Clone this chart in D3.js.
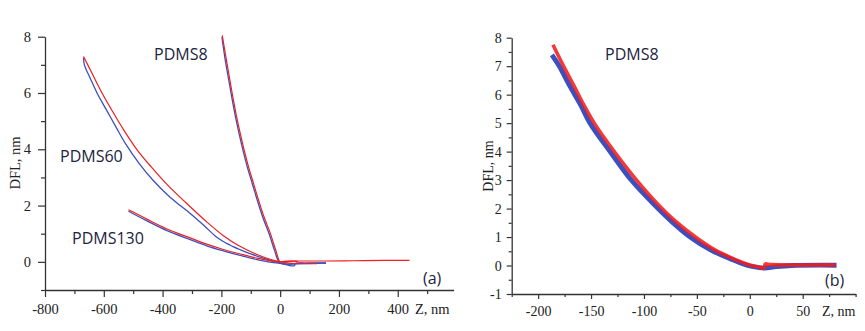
<!DOCTYPE html>
<html><head><meta charset="utf-8">
<script src="https://cdn.jsdelivr.net/npm/d3@7"></script>
<style>body{margin:0;background:#fff}svg{display:block}</style>
</head><body><svg id="c" width="865" height="331"></svg>
<script>
// ---------- Panel (a) data (Z in nm, DFL in nm) ----------
const aZ8red  = [-197,-185,-170,-159,-147,-136,-122,-108,-91,-74,-55,-34,-16,0,10,60,150,250,350,440];
const aD8red  = [8.05,7.3,6.4,5.75,5.1,4.57,3.95,3.39,2.8,2.21,1.6,1.03,0.45,0.0,0.02,0.03,0.03,0.04,0.05,0.05];
const aZ8blue = [-198,-188,-173,-162,-150,-139,-125,-111,-94,-77,-58,-37,-19,-3,10,30,60,100,156];
const aD8blue = [7.98,7.25,6.35,5.7,5.05,4.52,3.9,3.34,2.75,2.16,1.55,0.98,0.4,-0.02,-0.07,-0.08,-0.05,-0.04,-0.04];

const aZ60red  = [-669,-640,-606,-570,-533,-488,-440,-386,-340,-306,-250,-193,-140,-79,-40,0,40,125];
const aD60red  = [7.3,6.70,6.0,5.34,4.70,4.0,3.39,2.76,2.29,1.96,1.42,0.93,0.57,0.26,0.11,0.0,-0.05,-0.06];
const aZ60blue = [-669,-666,-645,-623,-590,-557,-525,-480,-431,-380,-340,-306,-260,-221,-195,-175,-160,-136,-100,-50,0,20,48,52,80];
const aD60blue = [7.25,7.0,6.5,6.0,5.38,4.76,4.18,3.5,2.88,2.35,2.0,1.72,1.3,0.92,0.73,0.62,0.54,0.43,0.28,0.11,-0.04,-0.1,-0.14,-0.06,-0.05];

const aZ130red  = [-516,-500,-450,-385,-306,-250,-193,-136,-79,-40,0,20,60];
const aD130red  = [1.85,1.77,1.50,1.17,0.85,0.63,0.44,0.28,0.13,0.05,0.0,0.02,0.02];
const aZ130blue = [-516,-500,-450,-385,-306,-250,-193,-136,-79,-40,0,20,80,156];
const aD130blue = [1.80,1.71,1.44,1.11,0.79,0.57,0.39,0.23,0.08,0.0,-0.05,-0.08,-0.06,-0.04];

const aXMajor = [-800,-600,-400,-200,0,200,400];
const aXMinor = [-700,-500,-300,-100,100,300,500];
const aYMajor = [0,2,4,6,8];
const aYMinor = [-1,1,3,5,7];

// ---------- Panel (b) data ----------
const bZred  = [-186,-176,-166,-157,-147,-127,-107,-88,-70,-52,-33,-13,0,8,14,14.5,20,50,81];
const bDred  = [7.75,7.0,6.3,5.65,5.0,3.95,3.0,2.2,1.55,1.02,0.55,0.2,0.02,-0.05,-0.08,0.05,0.03,0.02,0.02];
const bZblue = [-187,-180,-170,-160,-151,-131,-112,-92,-74,-57,-37,-16,-2,8,14,25,40,82];
const bDblue = [7.4,7.0,6.3,5.65,5.0,3.95,3.0,2.2,1.55,1.02,0.55,0.2,0.0,-0.07,-0.09,-0.04,0.0,0.01];

const bXMajor = [-200,-150,-100,-50,0,50];
const bXMinor = [-225,-175,-125,-75,-25,25,75,100];
const bYMajor = [-1,0,1,2,3,4,5,6,7,8];
const bYMinor = [-0.5,0.5,1.5,2.5,3.5,4.5,5.5,6.5,7.5];

const RED = "#f01e1e", BLUE = "#3b4fbf", AX = "#333", TXT = "#1b2440";
const svg = d3.select("#c");
svg.append("rect").attr("width",865).attr("height",331).attr("fill","#fff");

function pairs(z, d){ return z.map((v,i)=>[v,d[i]]); }

function styleAxis(g, fs){
  g.selectAll("path.domain").attr("stroke",AX).attr("stroke-width",1.3);
  g.selectAll(".tick line").attr("stroke",AX).attr("stroke-width",1.2);
  g.selectAll(".tick text").attr("fill","#222").attr("font-family","'Liberation Serif','Times New Roman',serif").attr("font-size",fs);
}

function drawAxes(x, y, x0, y0, o){
  let g = svg.append("g").attr("transform",`translate(0,${y0})`)
    .call(d3.axisBottom(x).tickValues(o.xMajor).tickSize(o.tMaj).tickSizeOuter(0).tickPadding(o.xPad).tickFormat(d=>String(d)));
  styleAxis(g, o.fs);
  g = svg.append("g").attr("transform",`translate(0,${y0})`)
    .call(d3.axisBottom(x).tickValues(o.xMinor).tickSize(o.tMin).tickSizeOuter(0).tickFormat(""));
  g.select("path.domain").remove(); styleAxis(g, o.fs);
  g = svg.append("g").attr("transform",`translate(${x0},0)`)
    .call(d3.axisLeft(y).tickValues(o.yMajor).tickSize(o.tMaj).tickSizeOuter(0).tickPadding(o.yPad).tickFormat(d=>String(d)));
  styleAxis(g, o.fs);
  g = svg.append("g").attr("transform",`translate(${x0},0)`)
    .call(d3.axisLeft(y).tickValues(o.yMinor).tickSize(o.tMin).tickSizeOuter(0).tickFormat(""));
  g.select("path.domain").remove(); styleAxis(g, o.fs);
}

// ---------- Panel (a) ----------
const xa = d3.scaleLinear().domain([-800, 590]).range([45, 453.6]);
const ya = d3.scaleLinear().domain([-1, 8]).range([290, 36.7]);
drawAxes(xa, ya, 45, 290, {xMajor:aXMajor,xMinor:aXMinor,yMajor:aYMajor,yMinor:aYMinor,tMaj:7,tMin:4,xPad:7,yPad:7,fs:"14.5px"});

const la = d3.line().x(d=>xa(d[0])).y(d=>ya(d[1])).curve(d3.curveCatmullRom.alpha(0.5));
[[aZ8blue,aD8blue],[aZ60blue,aD60blue],[aZ130blue,aD130blue]].forEach(([z,d])=>{
  svg.append("path").attr("d",la(pairs(z,d))).attr("fill","none").attr("stroke",BLUE).attr("stroke-width",1.3);
});
[[aZ8red,aD8red],[aZ60red,aD60red],[aZ130red,aD130red]].forEach(([z,d])=>{
  svg.append("path").attr("d",la(pairs(z,d))).attr("fill","none").attr("stroke",RED).attr("stroke-width",1.2);
});

const sans = "'Open Sans','Noto Sans',sans-serif";
const serif = "'Liberation Serif','Times New Roman',serif";
svg.append("text").attr("x",154).attr("y",60).text("PDMS8").attr("font-family",sans).attr("font-size","16px").attr("fill",TXT);
svg.append("text").attr("x",60).attr("y",162).text("PDMS60").attr("font-family",sans).attr("font-size","16px").attr("fill",TXT);
svg.append("text").attr("x",72).attr("y",244).text("PDMS130").attr("font-family",sans).attr("font-size","16px").attr("fill",TXT);
svg.append("text").attr("x",423).attr("y",284).text("(a)").attr("font-family",sans).attr("font-size","16px").attr("fill",TXT);
svg.append("text").attr("x",415).attr("y",314).text("Z, nm").attr("font-family",serif).attr("font-size","14.5px").attr("fill","#222");
svg.append("text").attr("transform","translate(19.5,163) rotate(-90)").attr("text-anchor","middle").text("DFL, nm")
  .attr("font-family",serif).attr("font-size","14.5px").attr("fill","#222");

// ---------- Panel (b) ----------
const xb = d3.scaleLinear().domain([-225, 100]).range([511.7, 855.6]);
const yb = d3.scaleLinear().domain([-1, 8]).range([294, 37.7]);
drawAxes(xb, yb, 511.7, 294, {xMajor:bXMajor,xMinor:bXMinor,yMajor:bYMajor,yMinor:bYMinor,tMaj:5,tMin:3,xPad:7,yPad:5,fs:"14px"});

const lb = d3.line().x(d=>xb(d[0])).y(d=>yb(d[1])).curve(d3.curveCatmullRom.alpha(0.5));
svg.append("path").attr("d",lb(pairs(bZblue,bDblue))).attr("fill","none").attr("stroke",BLUE).attr("stroke-width",4.8).attr("stroke-linejoin","round");
svg.append("path").attr("d",lb(pairs(bZred,bDred))).attr("fill","none").attr("stroke",RED).attr("stroke-width",3.6).attr("stroke-opacity",0.88).attr("stroke-linejoin","round");

svg.append("text").attr("x",605).attr("y",60).text("PDMS8").attr("font-family",sans).attr("font-size","16px").attr("fill",TXT);
svg.append("text").attr("x",825).attr("y",286).text("(b)").attr("font-family",sans).attr("font-size","16px").attr("fill",TXT);
svg.append("text").attr("x",822).attr("y",316).text("Z, nm").attr("font-family",serif).attr("font-size","14px").attr("fill","#222");
svg.append("text").attr("transform","translate(493,166) rotate(-90)").attr("text-anchor","middle").text("DFL, nm")
  .attr("font-family",serif).attr("font-size","14px").attr("fill","#222");
</script></body></html>
